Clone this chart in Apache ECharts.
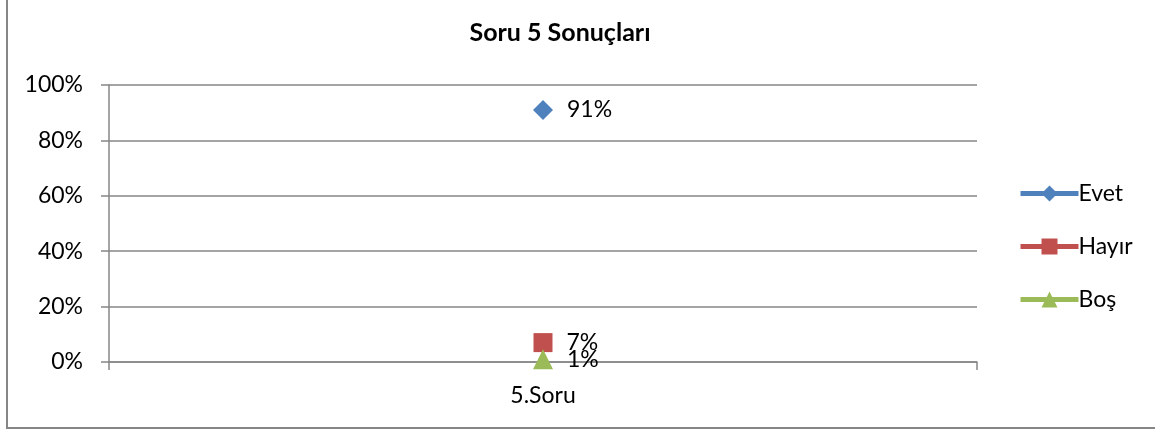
<!DOCTYPE html>
<html>
<head>
<meta charset="utf-8">
<script src="https://cdn.jsdelivr.net/npm/echarts@6/dist/echarts.min.js"></script>
<style>
  html, body { margin: 0; padding: 0; background: #fff; }
  #chart { width: 1155px; height: 432px; }
</style>
</head>
<body>
<div id="chart"></div>
<script>
// kategori ve seri verileri
var categories = ['5.Soru'];
var seriesNames = ['Evet', 'Hayır', 'Boş'];
var evet = [0.91];
var hayir = [0.07];
var bos = [0.01];
var yTicks = [0, 0.2, 0.4, 0.6, 0.8, 1];

var colors = ['#4F81BD', '#C0504D', '#9BBB59'];
var fontName = 'Lato, "Open Sans", sans-serif';

var chart = echarts.init(document.getElementById('chart'), null, { renderer: 'canvas' });

function pct(v) {
  return Math.round(v * 100) + '%';
}

function makeSeries(name, data, symbol, size, color) {
  return {
    name: name,
    type: 'line',
    data: data,
    symbol: symbol,
    symbolSize: size,
    showAllSymbol: true,
    itemStyle: { color: color },
    lineStyle: { color: color, width: 4 },
    label: {
      show: true,
      position: 'right',
      distance: 14,
      color: '#000',
      fontSize: 23,
      fontFamily: fontName,
      formatter: function (p) { return pct(p.value); }
    },
    emphasis: { disabled: true },
    animation: false
  };
}

var option = {
  backgroundColor: '#fff',
  color: colors,
  textStyle: { fontFamily: fontName },
  graphic: [{
    type: 'rect',
    shape: { x: 7, y: -10, width: 1200, height: 438 },
    style: { fill: 'none', stroke: '#868686', lineWidth: 2 },
    z: -1
  }],
  title: {
    text: 'Soru 5 Sonuçları',
    left: 555,
    textAlign: 'center',
    top: 15,
    textStyle: { fontSize: 25, fontWeight: 'bold', color: '#000', fontFamily: fontName }
  },
  legend: {
    orient: 'vertical',
    left: 1013,
    top: 177,
    itemWidth: 58,
    itemHeight: 20,
    itemGap: 30,
    selectedMode: false,
    lineStyle: { width: 5 },
    textStyle: { fontSize: 23, color: '#000', fontFamily: fontName, padding: [0, 0, 0, -5] },
    data: seriesNames
  },
  grid: { left: 109, right: 178, top: 85, bottom: 70, containLabel: false },
  xAxis: {
    type: 'category',
    data: categories,
    boundaryGap: true,
    axisLine: { lineStyle: { color: '#868686', width: 1.5 } },
    axisTick: { show: true, length: 8, inside: false, lineStyle: { color: '#868686', width: 1.5 } },
    axisLabel: { fontSize: 23, color: '#000', margin: 22, fontFamily: fontName }
  },
  yAxis: {
    type: 'value',
    min: 0,
    max: 1,
    interval: 0.2,
    axisLine: { show: true, lineStyle: { color: '#868686', width: 1.5 } },
    axisTick: { show: true, length: 8, lineStyle: { color: '#868686', width: 1.5 } },
    splitLine: { show: true, lineStyle: { color: '#868686', width: 1.5 } },
    axisLabel: {
      fontSize: 23,
      color: '#000',
      margin: 26,
      fontFamily: fontName,
      formatter: function (v) {
        for (var i = 0; i < yTicks.length; i++) {
          if (Math.abs(yTicks[i] - v) < 1e-9) return pct(yTicks[i]);
        }
        return '';
      }
    }
  },
  series: [
    makeSeries(seriesNames[0], evet, 'diamond', 20, colors[0]),
    makeSeries(seriesNames[1], hayir, 'rect', 19, colors[1]),
    makeSeries(seriesNames[2], bos, 'triangle', 20, colors[2])
  ],
  animation: false
};

chart.setOption(option);
</script>
</body>
</html>
